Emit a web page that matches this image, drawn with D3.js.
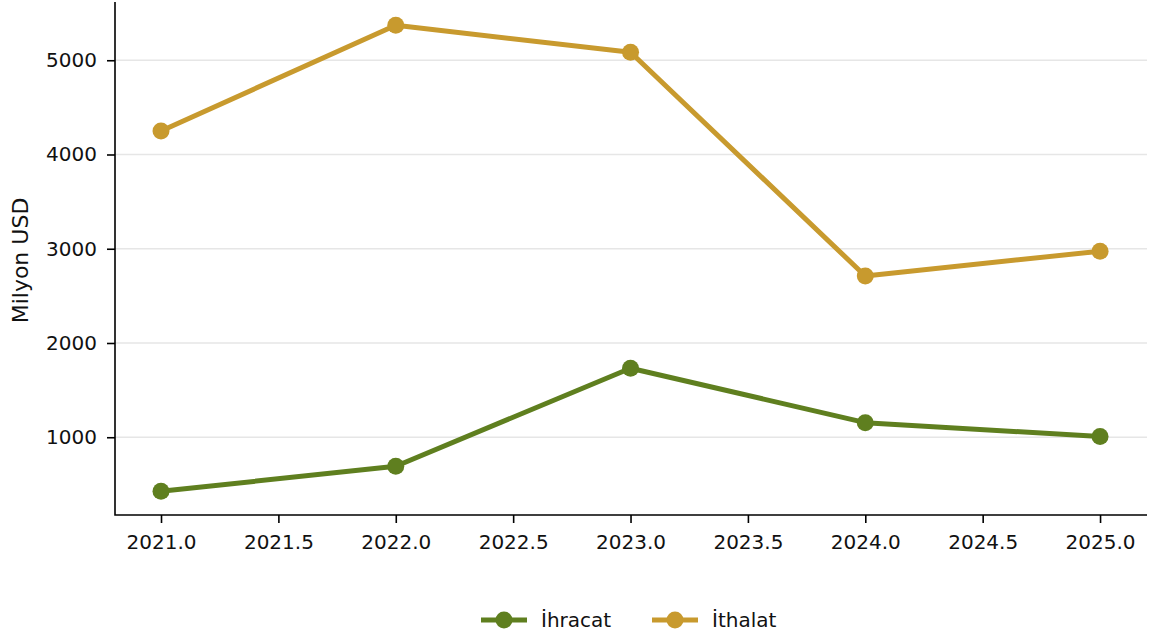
<!DOCTYPE html>
<html><head><meta charset="utf-8">
<script src="https://cdn.jsdelivr.net/npm/d3@7"></script>
<style>body{margin:0;background:#fff}svg{display:block}</style>
</head><body>
<svg id="c" width="1149" height="638"></svg>
<script>
const years = [2021, 2022, 2023, 2024, 2025];
const ihracat = [427, 692, 1732, 1155, 1007];
const ithalat = [4250, 5371, 5085, 2711, 2974];
const xTicks = [2021.0, 2021.5, 2022.0, 2022.5, 2023.0, 2023.5, 2024.0, 2024.5, 2025.0];
const yTicks = [1000, 2000, 3000, 4000, 5000];
const seriesNames = ["İhracat", "İthalat"];
const colors = ["#5f7f1f", "#c89a2e"];

const svg = d3.select("#c");
const font = "DejaVu Sans, sans-serif";
const L = 115, R = 1147, T = 2, B = 515;
const x = d3.scaleLinear().domain([2020.804, 2025.2]).range([L, R]);
const y = d3.scaleLinear().domain([175, 5618]).range([B, T]);

// grid
svg.append("g").selectAll("line").data(yTicks).join("line")
  .attr("x1", L).attr("x2", R).attr("y1", d => y(d)).attr("y2", d => y(d))
  .attr("stroke", "#e6e6e6").attr("stroke-width", 1.3);

const series = [ihracat, ithalat];
const line = d3.line().x((d, i) => x(years[i])).y(d => y(d));
series.forEach((s, k) => {
  svg.append("path").datum(s).attr("d", line).attr("fill", "none")
    .attr("stroke", colors[k]).attr("stroke-width", 5).attr("stroke-linejoin", "round");
  svg.append("g").selectAll("circle").data(s).join("circle")
    .attr("cx", (d, i) => x(years[i])).attr("cy", d => y(d)).attr("r", 8.5)
    .attr("fill", colors[k]);
});

// axes
const xa = svg.append("g").attr("transform", `translate(0,${B})`)
  .call(d3.axisBottom(x).tickValues(xTicks).tickFormat(d3.format(".1f")).tickSizeOuter(0).tickSize(8).tickPadding(12));
const ya = svg.append("g").attr("transform", `translate(${L},0)`)
  .call(d3.axisLeft(y).tickValues(yTicks).tickFormat(d3.format("d")).tickSizeOuter(0).tickSize(8).tickPadding(10));
[xa, ya].forEach(a => {
  a.select(".domain").remove();
  a.selectAll(".tick line").attr("stroke", "#000").attr("stroke-width", 1.6);
  a.selectAll("text").attr("font-family", font).attr("font-size", 20).attr("fill", "#111");
});
svg.append("path").attr("d", `M${L},${T}V${B}H${R}`).attr("fill", "none")
  .attr("stroke", "#000").attr("stroke-width", 1.6);

svg.append("text").attr("transform", `translate(28,${(T + B) / 2 + 2}) rotate(-90)`)
  .attr("text-anchor", "middle").attr("font-family", font).attr("font-size", 22)
  .attr("fill", "#111").text("Milyon USD");

// legend
const lx = [481, 652];
seriesNames.forEach((n, k) => {
  const g = svg.append("g").attr("transform", `translate(${lx[k]},620)`);
  g.append("line").attr("x1", 0).attr("x2", 46).attr("stroke", colors[k]).attr("stroke-width", 5);
  g.append("circle").attr("cx", 23).attr("r", 8.5).attr("fill", colors[k]);
  g.append("text").attr("x", 60).attr("y", 7).attr("font-family", font).attr("font-size", 20)
    .attr("fill", "#111").text(n);
});
</script>
</body></html>
